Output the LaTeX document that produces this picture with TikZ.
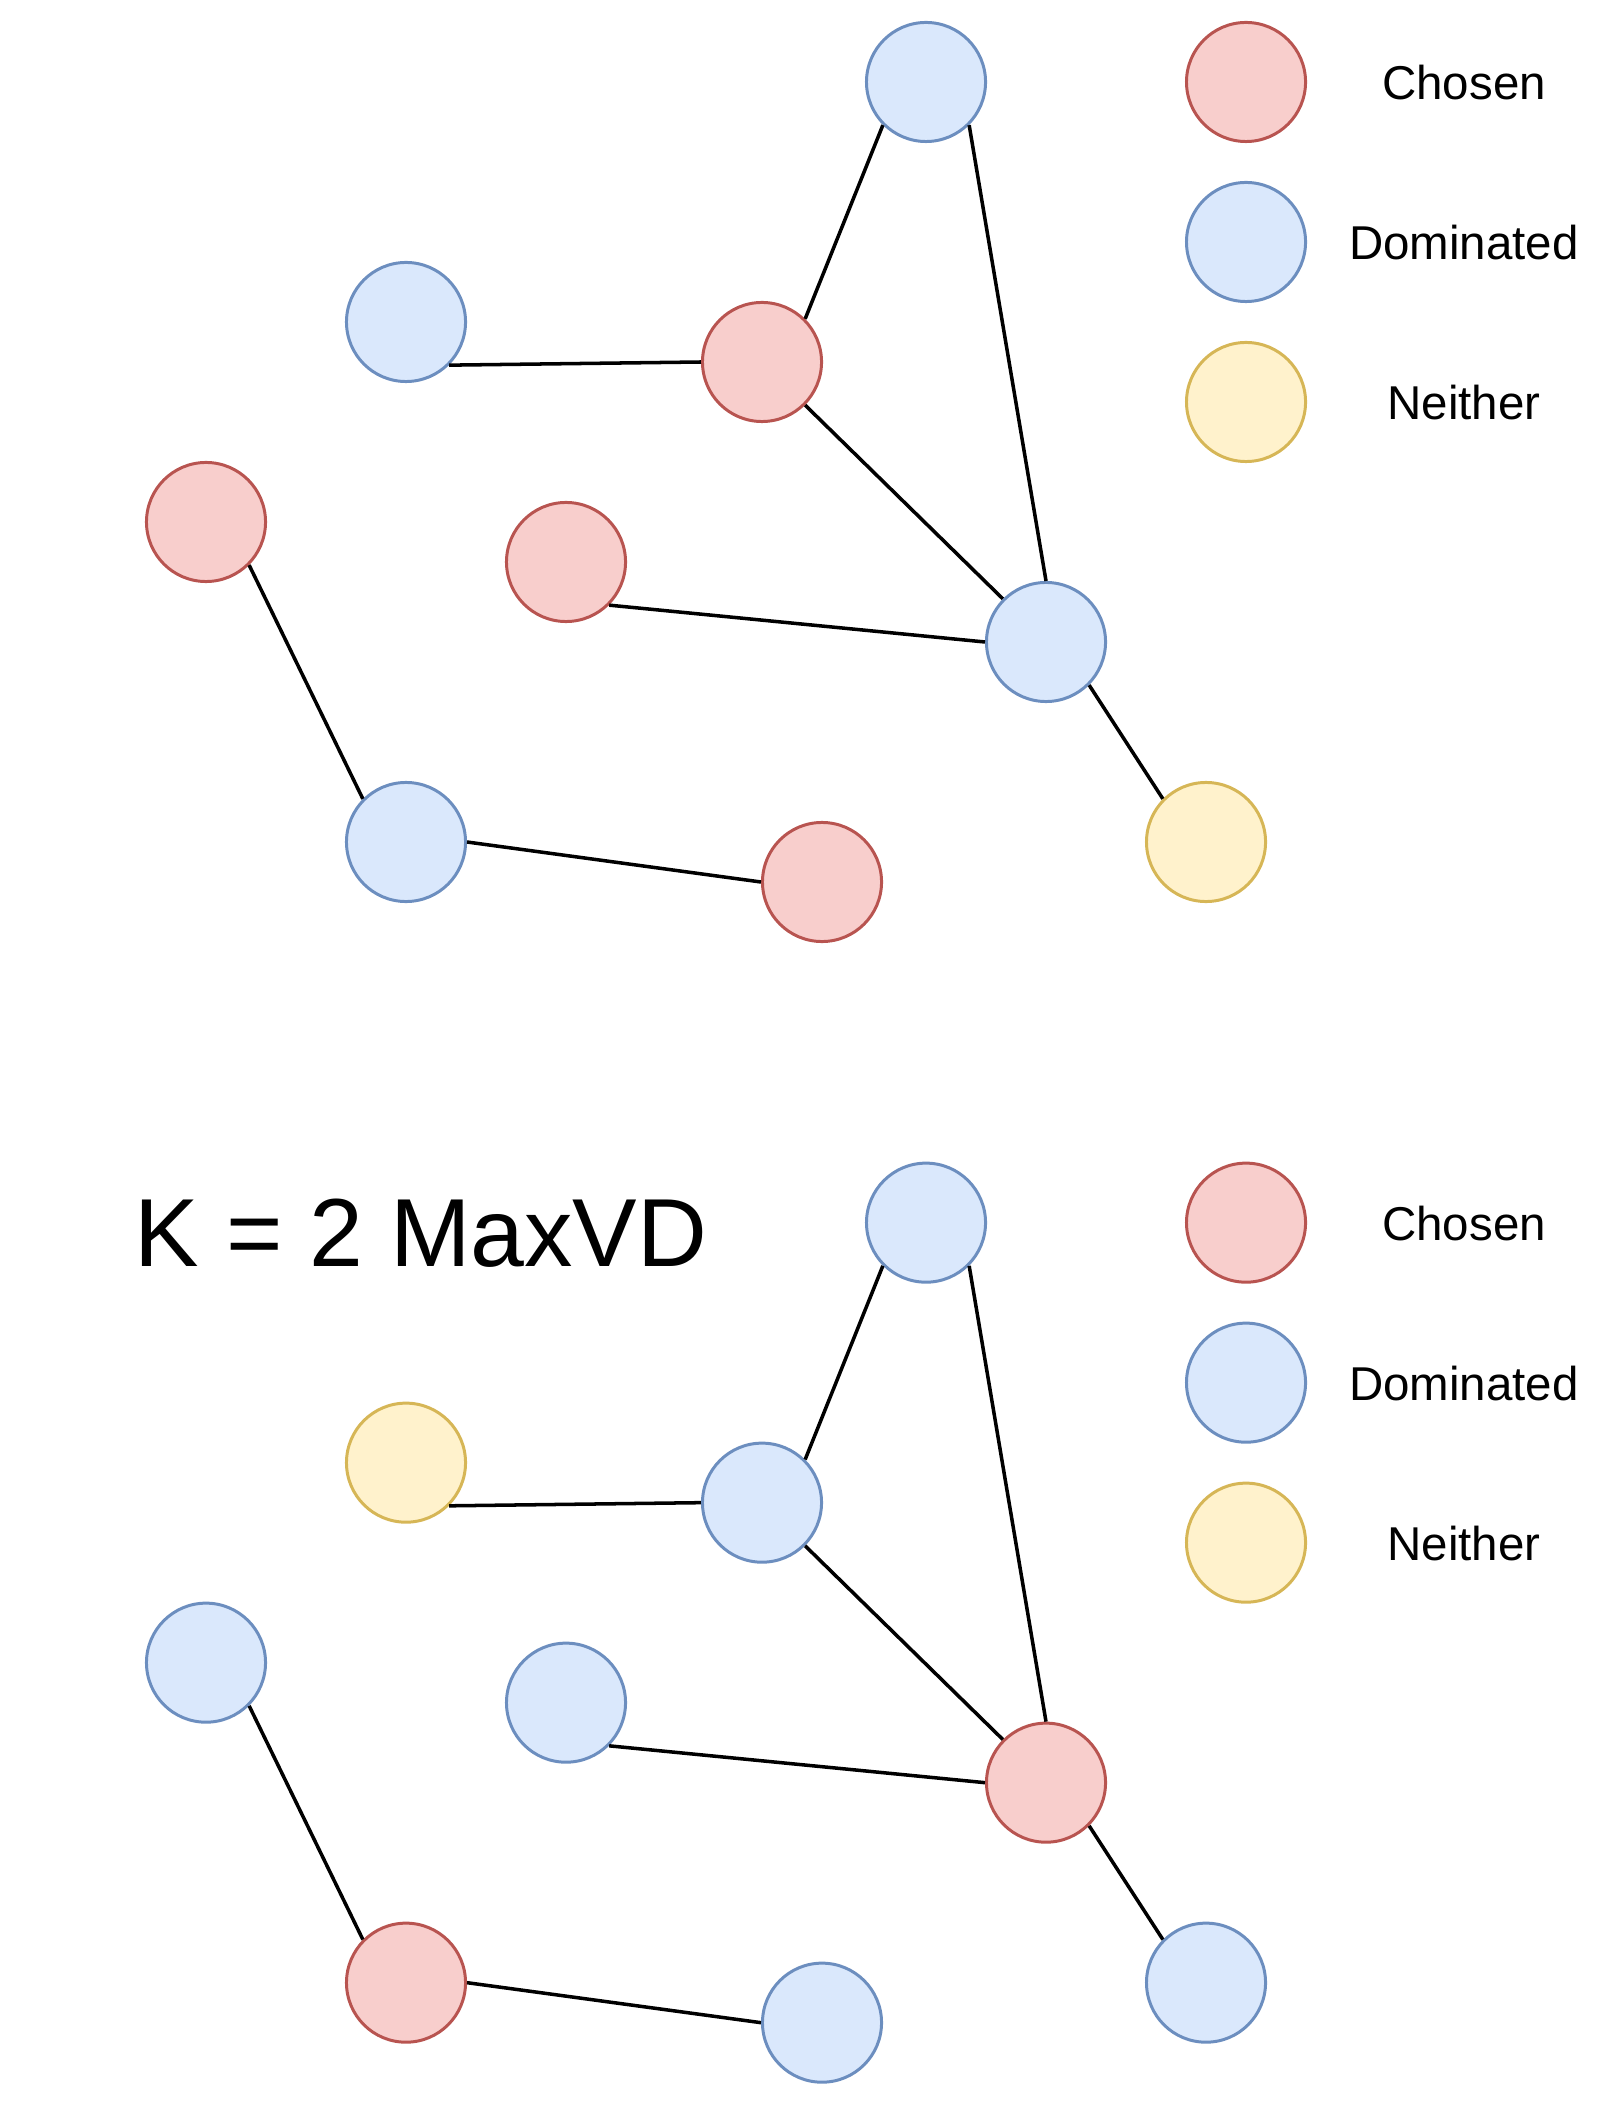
\documentclass[tikz,border=0pt]{standalone}
\usepackage{fontspec}
\setmainfont{Liberation Sans}

\definecolor{chosenFill}{HTML}{F8CECC}
\definecolor{chosenLine}{HTML}{B85450}
\definecolor{domFill}{HTML}{DAE8FC}
\definecolor{domLine}{HTML}{6C8EBF}
\definecolor{neitherFill}{HTML}{FFF2CC}
\definecolor{neitherLine}{HTML}{D6B656}

\tikzset{
    vertex/.style={circle, minimum size=1.19cm, inner sep=0pt, line width=0.85pt},
    chosen/.style={vertex, draw=chosenLine, fill=chosenFill},
    dominated/.style={vertex, draw=domLine, fill=domFill},
    neither/.style={vertex, draw=neitherLine, fill=neitherFill},
    edge/.style={black, line width=1pt},
    legendtext/.style={font=\fontsize{13.5}{16}\selectfont},
}

\begin{document}
\begin{tikzpicture}[x=0.01cm, y=-0.01cm]

    % --- Page frame (pixel units, y down) ---
    \useasboundingbox (0,0) rectangle (1604,2104);
    \def\Shift{-11.4cm}  % offset of the second panel

    % --- Top panel: vertices ---
    \node[dominated] (tA) at (926, 82)  {};
    \node[dominated] (tB) at (406, 322) {};
    \node[chosen]    (tC) at (762, 362) {};
    \node[chosen]    (tD) at (206, 522) {};
    \node[chosen]    (tE) at (566, 562) {};
    \node[dominated] (tF) at (1046,642) {};
    \node[dominated] (tG) at (406, 842) {};
    \node[chosen]    (tH) at (822, 882) {};
    \node[neither]   (tI) at (1206,842) {};

    % --- Top panel: edges ---
    \foreach \u/\v in {C.west/B.-45, A.-135/C.45, A.-45/F.north, C.-45/F.135,
                       E.-45/F.west, F.-45/I.135, D.-45/G.135, G.east/H.west}
        \draw[edge] (t\u) -- (t\v);

    % --- Top panel: legend ---
    \node[chosen]    (tLegC) at (1246, 82)  {};
    \node[dominated] (tLegD) at (1246, 242) {};
    \node[neither]   (tLegN) at (1246, 402) {};
    \node[legendtext] (tLegCText) at (1464, 83)  {Chosen};
    \node[legendtext] (tLegDText) at (1464, 243) {Dominated};
    \node[legendtext] (tLegNText) at (1464, 403) {Neither};

    % --- Bottom panel (same graph, shifted down) ---
    \begin{scope}[yshift=\Shift]
        \node[dominated] (bA) at (926, 82)  {};
        \node[neither]   (bB) at (406, 322) {};
        \node[dominated] (bC) at (762, 362) {};
        \node[dominated] (bD) at (206, 522) {};
        \node[dominated] (bE) at (566, 562) {};
        \node[chosen]    (bF) at (1046,642) {};
        \node[chosen]    (bG) at (406, 842) {};
        \node[dominated] (bH) at (822, 882) {};
        \node[dominated] (bI) at (1206,842) {};

        \foreach \u/\v in {C.west/B.-45, A.-135/C.45, A.-45/F.north, C.-45/F.135,
                           E.-45/F.west, F.-45/I.135, D.-45/G.135, G.east/H.west}
            \draw[edge] (b\u) -- (b\v);

        % legend
        \node[chosen]    (bLegC) at (1246, 82)  {};
        \node[dominated] (bLegD) at (1246, 242) {};
        \node[neither]   (bLegN) at (1246, 402) {};
        \node[legendtext] (bLegCText) at (1464, 83)  {Chosen};
        \node[legendtext] (bLegDText) at (1464, 243) {Dominated};
        \node[legendtext] (bLegNText) at (1464, 403) {Neither};
    \end{scope}

    % --- Title of the second panel ---
    \node[font=\fontsize{27.5}{32}\selectfont] (title) at (421, 1233) {K = 2 MaxVD};

\end{tikzpicture}
\end{document}
